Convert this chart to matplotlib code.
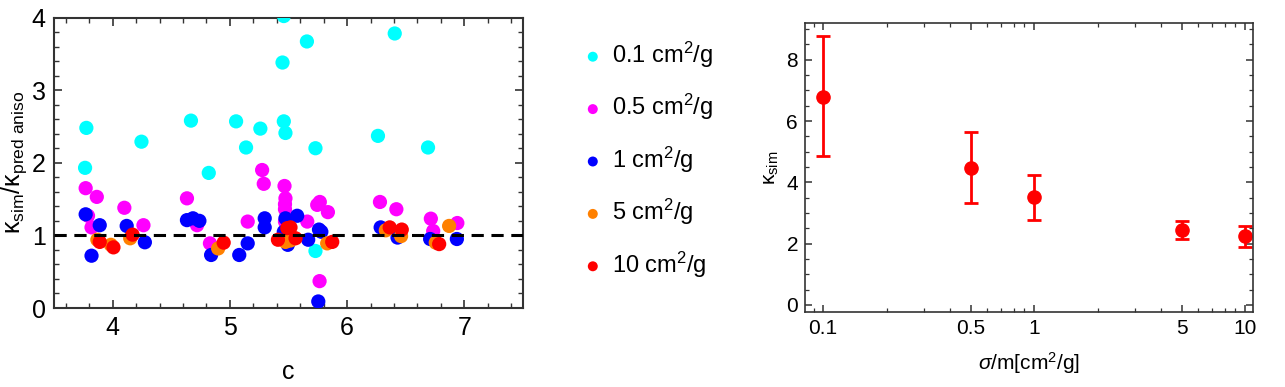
import matplotlib
matplotlib.use("Agg")
import matplotlib.pyplot as plt
from matplotlib.ticker import MultipleLocator, FixedLocator, NullFormatter, LogLocator
import numpy as np

plt.rcParams['font.family'] = ['Liberation Sans', 'DejaVu Sans']
plt.rcParams['mathtext.fontset'] = 'custom'
plt.rcParams['mathtext.rm'] = 'Liberation Sans'
plt.rcParams['mathtext.it'] = 'Liberation Sans:italic'
plt.rcParams['mathtext.default'] = 'regular'

# ---- Left panel data: c vs kappa_sim / kappa_pred aniso ----
labels = ["0.1 cm$^2$/g", "0.5 cm$^2$/g", "1 cm$^2$/g", "5 cm$^2$/g", "10 cm$^2$/g"]
colors = ["#00FFFF", "#FF00FF", "#0000FF", "#FF8000", "#FF0000"]

c_01 = [3.776, 3.765, 4.246, 4.668, 4.82, 5.053, 5.26, 5.138, 5.46, 5.474, 5.449, 5.46,
        5.657, 5.73, 5.73, 6.406, 6.263, 6.69]
r_01 = [2.48, 1.93, 2.29, 2.58, 1.86, 2.57, 2.47, 2.21, 2.57, 2.41, 3.38, 4.02,
        3.67, 2.20, 0.785, 3.78, 2.37, 2.21]

c_05 = [3.77, 3.865, 3.79, 3.82, 4.10, 4.263, 4.634, 4.72, 4.83, 5.152, 5.275, 5.289,
        5.466, 5.474, 5.47, 5.47, 5.47, 5.66, 5.745, 5.767, 5.836, 5.765, 6.28, 6.42,
        6.714, 6.734, 6.94]
r_05 = [1.65, 1.53, 1.27, 1.11, 1.38, 1.14, 1.51, 1.14, 0.89, 1.19, 1.90, 1.71,
        1.68, 1.51, 1.43, 1.36, 1.19, 1.19, 1.42, 1.46, 1.32, 0.37, 1.46, 1.36,
        1.23, 1.06, 1.17]

c_1 = [3.77, 3.89, 3.82, 4.12, 4.275, 4.634, 4.685, 4.74, 4.84, 5.08, 5.152, 5.297,
       5.297, 5.474, 5.46, 5.494, 5.574, 5.668, 5.76, 5.78, 5.754, 6.286, 6.43, 6.708, 6.936]
r_1 = [1.29, 1.14, 0.72, 1.13, 0.905, 1.21, 1.235, 1.20, 0.73, 0.73, 0.89, 1.235,
       1.11, 1.235, 1.05, 0.87, 1.27, 0.94, 1.08, 1.05, 0.09, 1.11, 0.97, 0.95, 0.95]

c_5 = [3.87, 3.985, 4.15, 4.90, 5.474, 5.517, 5.83, 6.33, 6.46, 6.87, 6.756]
r_5 = [0.94, 0.87, 0.96, 0.82, 0.91, 0.93, 0.89, 1.07, 0.99, 1.13, 0.90]

c_10 = [3.89, 4.007, 4.17, 4.947, 5.41, 5.49, 5.517, 5.56, 5.873, 6.363, 6.466, 6.785]
r_10 = [0.91, 0.835, 1.01, 0.90, 0.94, 1.10, 1.11, 0.96, 0.91, 1.11, 1.08, 0.88]

series_c = [c_01, c_05, c_1, c_5, c_10]
series_r = [r_01, r_05, r_1, r_5, r_10]

# ---- Right panel data: sigma/m vs kappa_sim ----
sigma = [0.1, 0.5, 1, 5, 10]
kappa = [6.8, 4.47, 3.52, 2.45, 2.25]
kappa_lo = [4.85, 3.34, 2.78, 2.15, 1.90]
kappa_hi = [8.77, 5.63, 4.25, 2.75, 2.59]

fig = plt.figure(figsize=(12.85, 3.87), dpi=100)

ax1 = fig.add_axes([54/1285, 1-308/387, 469/1285, 290.5/387])
handles = []
for cs, rs, col, lab in zip(series_c, series_r, colors, labels):
    h = ax1.scatter(cs, rs, s=105, color=col, edgecolors='none', label=lab, zorder=3)
    handles.append(h)
ax1.axhline(1.0, color='black', lw=2.2, ls=(0, (4, 2.5)), zorder=4)
ax1.set_xlim(3.5, 7.5)
ax1.set_ylim(0, 4)
ax1.xaxis.set_major_locator(MultipleLocator(1))
ax1.xaxis.set_minor_locator(MultipleLocator(0.2))
ax1.yaxis.set_major_locator(MultipleLocator(1))
ax1.yaxis.set_minor_locator(MultipleLocator(0.2))
ax1.tick_params(which='both', direction='in', top=True, right=True, color='#333333')
ax1.tick_params(which='major', length=6, width=1.2, labelsize=18, pad=6)
ax1.tick_params(which='minor', length=3.5, width=1.0)
for sp in ax1.spines.values():
    sp.set_linewidth(1.5)
    sp.set_color('#333333')
ax1.set_xlabel('c', fontsize=18, labelpad=14)
ax1.set_ylabel(r'$\kappa_{sim}/\kappa_{pred\ aniso}$', fontsize=18, labelpad=2)

fig.legend(handles=handles, labels=labels, loc='upper left',
           bbox_to_anchor=(568/1285, 1-28/387), frameon=False, fontsize=17,
           markerscale=0.7, labelspacing=0.94, handletextpad=0.25, handlelength=1.1,
           borderpad=0)

ax2 = fig.add_axes([805/1285, 1-312/387, 448/1285, 289/387])
yerr = [np.array(kappa) - np.array(kappa_lo), np.array(kappa_hi) - np.array(kappa)]
ax2.errorbar(sigma, kappa, yerr=yerr, fmt='o', color='#FF0000', ms=9.5,
             elinewidth=2, capsize=5, capthick=2)
ax2.set_xscale('log')
ax2.set_xlim(0.082, 10.9)
ax2.set_ylim(-0.23, 9.2)
ax2.xaxis.set_major_locator(FixedLocator([0.1, 0.5, 1, 5, 10]))
ax2.set_xticklabels(['0.1', '0.5', '1', '5', '10'])
ax2.xaxis.set_minor_locator(LogLocator(base=10, subs=np.arange(2, 10)))
ax2.xaxis.set_minor_formatter(NullFormatter())
ax2.yaxis.set_major_locator(MultipleLocator(2))
ax2.yaxis.set_minor_locator(MultipleLocator(0.5))
ax2.tick_params(which='both', direction='in', top=True, right=True, color='#333333')
ax2.tick_params(which='major', length=5, width=1.1, labelsize=15, pad=5)
ax2.tick_params(which='minor', length=3, width=0.9)
for sp in ax2.spines.values():
    sp.set_linewidth(1.2)
    sp.set_color('#333333')
ax2.set_xlabel(r'$\mathit{\sigma}$/m[cm$^2$/g]', fontsize=15, labelpad=9)
ax2.set_ylabel(r'$\kappa_{sim}$', fontsize=15, labelpad=4)

fig.savefig('out.png', dpi=100)
